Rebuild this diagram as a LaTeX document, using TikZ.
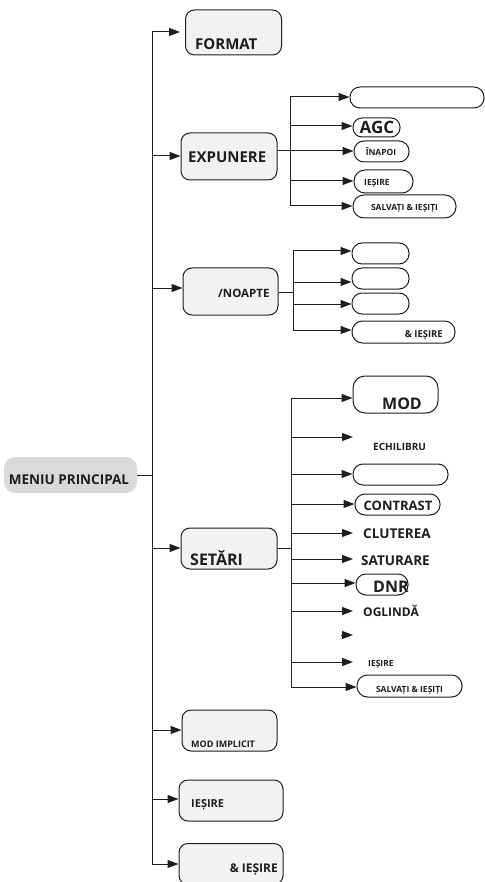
\documentclass[tikz,border=0pt]{standalone}
\usepackage{fontspec}
\setmainfont{Open Sans}
\usetikzlibrary{arrows.meta}
\definecolor{boxfill}{HTML}{F2F2F2}
\definecolor{rootfill}{HTML}{D9D9D9}
\definecolor{ink}{HTML}{1E1E1E}
\newcommand\fsz[1]{\fontsize{#1}{#1}\selectfont\bfseries}
\begin{document}
\begin{tikzpicture}[x=1pt,y=-1pt,
  mainbox/.style={draw=ink, fill=boxfill, line width=1pt, rounded corners=9pt, inner sep=0pt},
  rootbox/.style={draw=none, fill=rootfill, rounded corners=11pt, inner sep=0pt},
  pill/.style={draw=ink, fill=white, line width=1pt, rounded corners=#1, inner sep=0pt},
  pill/.default=10pt,
  txt/.style={inner sep=0pt, text=ink},
  ln/.style={draw=ink, line width=1pt},
  arr/.style={draw=ink, line width=1pt, -{Triangle[length=11pt,width=8pt]}}]
\useasboundingbox (0,0) rectangle (484,882);

% ---------- main boxes ----------
\node[rootbox, minimum width=133pt, minimum height=36pt] (root) at (70.5,475) {};
\node[mainbox, minimum width=96pt, minimum height=45pt] (format) at (233.5,32.5) {};
\node[mainbox, minimum width=96pt, minimum height=47pt] (expunere) at (229,156.5) {};
\node[mainbox, minimum width=95pt, minimum height=47pt] (noapte) at (230.5,291.5) {};
\node[mainbox, minimum width=96pt, minimum height=41pt] (setari) at (229,548.5) {};
\node[mainbox, minimum width=95pt, minimum height=41pt] (modimpl) at (229.5,730.5) {};
\node[mainbox, minimum width=104pt, minimum height=41pt] (iesire) at (231,800.5) {};
\node[mainbox, minimum width=104pt, minimum height=41pt] (salvx) at (231,864) {};

% ---------- main texts ----------
\node[txt, font=\fsz{13.5}, anchor=base] (rootT) at (69,484) {MENIU PRINCIPAL};
\node[txt, font=\fsz{15}, anchor=base west] (formatT) at (195,50) {FORMAT};
\node[txt, font=\fsz{15}, anchor=base west] (expunereT) at (188,163) {EXPUNERE};
\node[txt, font=\fsz{11.5}, anchor=base west] (noapteT) at (218,298) {/NOAPTE};
\node[txt, font=\fsz{16}, anchor=base west] (setariT) at (190,565) {SETĂRI};
\node[txt, font=\fsz{9}, anchor=base west] (modimplT) at (191,747) {MOD IMPLICIT};
\node[txt, font=\fsz{11}, anchor=base west] (iesireT) at (191,807) {IEȘIRE};
\node[txt, font=\fsz{12}, anchor=base east] (salvxT) at (278,872) {\& IEȘIRE};

% ---------- trunk ----------
\coordinate (tF) at (152,32);
\coordinate (tE) at (152,156);
\coordinate (tN) at (152,288);
\coordinate (tS) at (152,548);
\coordinate (tM) at (152,730);
\coordinate (tI) at (152,799);
\coordinate (tX) at (152,864);
\draw[ln] (tF) -- (tX);
\draw[ln] (root.east) -- (root.east -| tF);
\draw[arr, shorten >=5pt] (tF) -- (tF -| format.west);
\draw[arr] (tE) -- (tE -| expunere.west);
\draw[arr] (tN) -- (tN -| noapte.west);
\draw[arr] (tS) -- (tS -| setari.west);
\draw[arr] (tM) -- (tM -| modimpl.west);
\draw[arr] (tI) -- (tI -| iesire.west);
\draw[arr] (tX) -- (tX -| salvx.west);

% ---------- EXPUNERE branch ----------
\node[pill=10pt, minimum width=134pt, minimum height=21pt] (e1) at (417,97.5) {};
\node[pill=9pt, minimum width=47pt, minimum height=19pt] (e2) at (376.5,127.5) {};
\node[pill=10pt, minimum width=55pt, minimum height=21pt] (e3) at (381.5,151.5) {};
\node[pill=11pt, minimum width=59pt, minimum height=23pt] (e4) at (383.5,181.5) {};
\node[pill=11pt, minimum width=103pt, minimum height=23pt] (e5) at (404.5,206.5) {};
\node[txt, font=\fsz{17}, anchor=base] (e2T) at (377,133.5) {AGC};
\node[txt, font=\fsz{8.5}, anchor=base] (e3T) at (381,156) {ÎNAPOI};
\node[txt, font=\fsz{8.5}, anchor=base west] (e4T) at (364,186) {IEȘIRE};
\node[txt, font=\fsz{8.5}, anchor=base] (e5T) at (404.5,211) {SALVAȚI \& IEȘIȚI};
\coordinate (eJ) at (290,151);
\coordinate (e1c) at (290,97);
\coordinate (e2c) at (290,126);
\coordinate (e3c) at (290,151);
\coordinate (e4c) at (290,181);
\coordinate (e5c) at (290,206);
\draw[ln] (eJ -| expunere.east) -- (eJ);
\draw[ln] (e1c) -- (e5c);
\draw[arr] (e1c) -- (e1c -| e1.west);
\draw[arr] (e2c) -- (e2c -| e2.west);
\draw[arr] (e3c) -- (e3c -| e3.west);
\draw[arr] (e4c) -- (e4c -| e4.west);
\draw[arr] (e5c) -- (e5c -| e5.west);

% ---------- NOAPTE branch ----------
\node[pill=10pt, minimum width=57pt, minimum height=21pt] (n1) at (380.5,253.5) {};
\node[pill=10pt, minimum width=57pt, minimum height=21pt] (n2) at (380.5,278.5) {};
\node[pill=10pt, minimum width=57pt, minimum height=21pt] (n3) at (380.5,303.5) {};
\node[pill=10.5pt, minimum width=103pt, minimum height=22pt] (n4) at (403.5,332) {};
\node[txt, font=\fsz{9.5}, anchor=base east] (n4T) at (443,337) {\& IEȘIRE};
\coordinate (nJ) at (293,292);
\coordinate (n1c) at (293,251);
\coordinate (n2c) at (293,282);
\coordinate (n3c) at (293,304);
\coordinate (n4c) at (293,330);
\draw[ln] (nJ -| noapte.east) -- (nJ);
\draw[ln] (n1c) -- (n4c);
\draw[arr] (n1c) -- (n1c -| n1.west);
\draw[arr] (n2c) -- (n2c -| n2.west);
\draw[arr] (n3c) -- (n3c -| n3.west);
\draw[arr] (n4c) -- (n4c -| n4.west);

% ---------- SETARI branch ----------
\node[pill=12pt, minimum width=85pt, minimum height=37pt] (s1) at (395.5,394.5) {};
\node[pill=10pt, minimum width=95pt, minimum height=21pt] (s3) at (400.5,474.5) {};
\node[pill=10pt, minimum width=85pt, minimum height=21pt] (s4) at (397.5,504.5) {};
\node[pill=10pt, minimum width=52pt, minimum height=21pt] (s7) at (382,584.5) {};
\node[pill=10.5pt, minimum width=105pt, minimum height=22pt] (s11) at (409.5,686) {};
\node[txt, font=\fsz{16}, anchor=base] (s1T) at (402,409) {MOD};
\node[txt, font=\fsz{10}, anchor=base west] (s2T) at (373,450) {ECHILIBRU};
\node[txt, font=\fsz{13}, anchor=base] (s4T) at (398,510) {CONTRAST};
\node[txt, font=\fsz{13.5}, anchor=base west] (s5T) at (363,538) {CLUTEREA};
\node[txt, font=\fsz{13.5}, anchor=base west] (s6T) at (361,565) {SATURARE};
\node[txt, font=\fsz{16}, anchor=base west] (s7T) at (373,592) {DNR};
\node[txt, font=\fsz{12}, anchor=base west] (s8T) at (363,616) {OGLINDĂ};
\node[txt, font=\fsz{8.5}, anchor=base west] (s10T) at (368,666) {IEȘIRE};
\node[txt, font=\fsz{8.5}, anchor=base] (s11T) at (409.5,692) {SALVAȚI \& IEȘIȚI};
\coordinate (sJ) at (291,548);
\coordinate (s1c) at (291,398);
\coordinate (s2c) at (291,437);
\coordinate (s2e) at (353,437);
\coordinate (s3c) at (291,474);
\coordinate (s4c) at (291,504);
\coordinate (s5c) at (291,533);
\coordinate (s5e) at (353,533);
\coordinate (s6c) at (291,559);
\coordinate (s6e) at (353,559);
\coordinate (s7c) at (291,583);
\coordinate (s8c) at (291,611);
\coordinate (s8e) at (353,611);
\coordinate (s9b) at (341,635);
\coordinate (s9e) at (353,635);
\coordinate (s10c) at (291,662);
\coordinate (s10e) at (353,662);
\coordinate (s11c) at (291,687);
\draw[ln] (sJ -| setari.east) -- (sJ);
\draw[ln] (s1c) -- (s11c);
\draw[arr] (s1c) -- (s1c -| s1.west);
\draw[arr] (s2c) -- (s2e);
\draw[arr] (s3c) -- (s3c -| s3.west);
\draw[arr] (s4c) -- (s4c -| s4.west);
\draw[arr] (s5c) -- (s5e);
\draw[arr] (s6c) -- (s6e);
\draw[arr] (s7c) -- (s7c -| s7.west);
\draw[arr] (s8c) -- (s8e);
\draw[arr] (s9b) -- (s9e);
\draw[arr] (s10c) -- (s10e);
\draw[arr] (s11c) -- (s11c -| s11.west);
\end{tikzpicture}
\end{document}
